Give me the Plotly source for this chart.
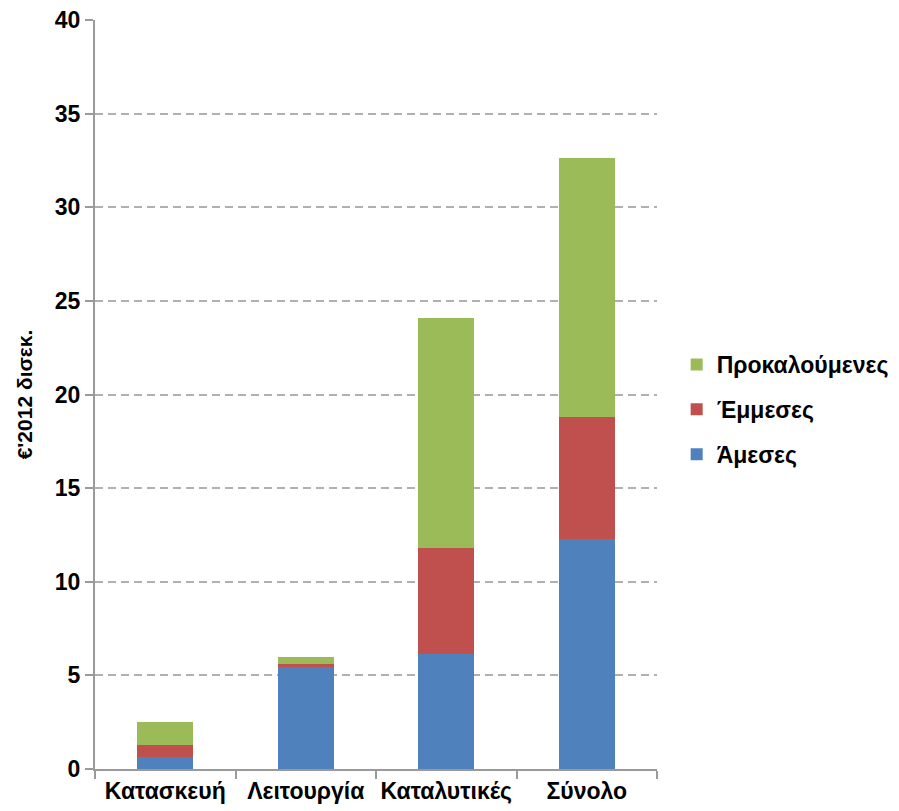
import plotly.graph_objects as go

categories = ['Κατασκευή', 'Λειτουργία', 'Καταλυτικές', 'Σύνολο']
direct = [0.66, 5.43, 6.12, 12.28]      # Άμεσες
indirect = [0.62, 0.18, 5.70, 6.54]     # Έμμεσες
induced = [1.21, 0.37, 12.27, 13.81]    # Προκαλούμενες

series = [
    ('Άμεσες', direct, '#4f81bd'),
    ('Έμμεσες', indirect, '#c0504d'),
    ('Προκαλούμενες', induced, '#9bbb59'),
]

font = 'Liberation Sans, Arial, sans-serif'

fig = go.Figure()
for i, (name, vals, col) in enumerate(series):
    fig.add_trace(go.Bar(x=categories, y=vals, name=name, legendgroup=name,
                         legendrank=100 - i,
                         marker=dict(color=col, line=dict(width=0))))

# page body has an 8px margin, so the figure is offset by 8px
fig.update_layout(
    barmode='stack', bargap=0.6,
    width=899, height=811,
    margin=dict(l=87, r=250, t=12, b=50, autoexpand=False),
    plot_bgcolor='white', paper_bgcolor='white',
    font=dict(family=font, size=20, color='black'),
    legend=dict(x=1.035, y=0.48, xanchor='left', yanchor='middle',
                traceorder='grouped', tracegroupgap=12,
                font=dict(size=23, family=font, weight='bold')),
)
fig.update_xaxes(
    showline=True, linecolor='#9a9a9a', linewidth=2,
    ticks='outside', tickson='boundaries', ticklen=8, tickcolor='#9a9a9a', tickwidth=2,
    tickangle=0, ticklabeloverflow='allow',
    tickfont=dict(size=23, weight='bold'),
)
fig.update_yaxes(
    range=[0, 40], dtick=5,
    showline=True, linecolor='#9a9a9a', linewidth=2,
    ticks='outside', ticklen=8, tickcolor='#9a9a9a', tickwidth=2,
    showgrid=True, gridcolor='#b0b0b0', griddash='8px,5px', gridwidth=2,
    zeroline=False, ticklabeloverflow='allow',
    tickfont=dict(size=23, weight='bold'),
    title=dict(text="€'2012 δισεκ.", font=dict(size=21, weight='bold'), standoff=16),
)

fig.write_html("out.html")
